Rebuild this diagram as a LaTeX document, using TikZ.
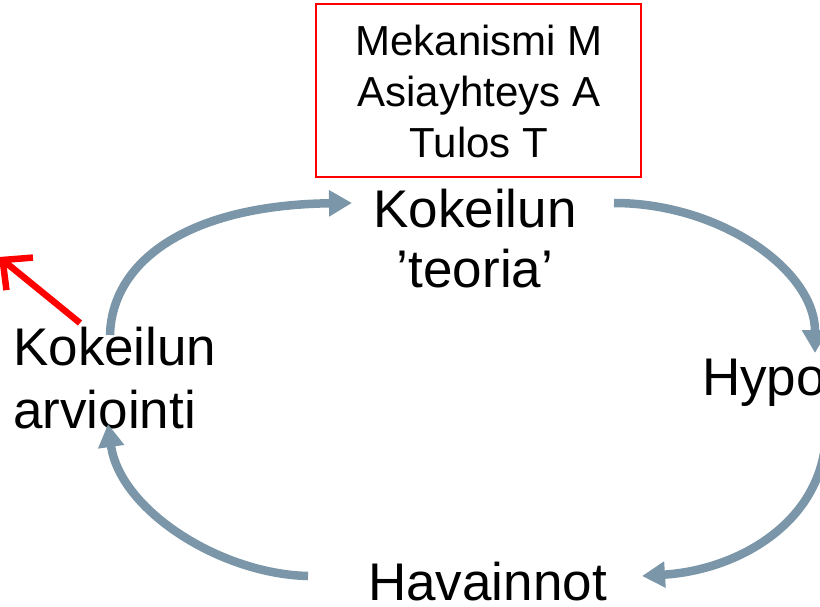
\documentclass[tikz,border=0pt]{standalone}
\usepackage{fontspec}
\setmainfont{Liberation Sans}
\usetikzlibrary{arrows.meta}
\definecolor{cyc}{RGB}{122,150,168}
\definecolor{boxred}{RGB}{255,0,0}
\begin{document}
\begin{tikzpicture}[x=1pt,y=-1pt,
  cycarrow/.style={draw=cyc, line width=8.5pt, -{Triangle[length=23pt,width=25pt]}},
  bigtext/.style={font=\fontsize{53}{60}\selectfont, inner sep=0pt},
  leftbig/.style={font=\fontsize{53}{63}\selectfont, inner sep=0pt},
  boxtext/.style={font=\fontsize{42}{51}\selectfont, inner sep=0pt},
  framebox/.style={draw=boxred, line width=1.5pt, inner sep=0pt},
  redarrow/.style={draw=boxred, line width=6.5pt, -{Straight Barb[length=22pt,width=42pt]}}]
\useasboundingbox (0,0) rectangle (820,606);
\clip (0,0) rectangle (820,606);
% frame box with its text
\node[framebox, minimum width=325pt, minimum height=173pt] (box) at (478.5,90.5) {};
\node[boxtext, align=center, anchor=base] (boxtxt) at (479,157) {Mekanismi M\\Asiayhteys A\\Tulos T};
% labels
\node[bigtext, align=center, anchor=base] (teoria) at (475,287) {Kokeilun\\’teoria’};
\node[leftbig, align=left, anchor=base west] (arvio) at (13,428) {Kokeilun\\arviointi};
\node[bigtext, anchor=base west] (hypo) at (702,395) {Hypo};
\node[bigtext, anchor=base west] (hav) at (368,600) {Havainnot};
% arrow end points
\coordinate (a1s) at (110,335);
\coordinate (a1e) at (352,203);
\coordinate (a2s) at (614,203);
\coordinate (a2e) at (815,353);
\coordinate (a3s) at (826,430);
\coordinate (a3e) at (642,576);
\coordinate (a4s) at (308,576);
\coordinate (a4e) at (108,424);
\coordinate (rs) at (80,323);
\coordinate (re) at (-1,257);
\draw[cycarrow] (a1s) .. controls (112,260) and (190,205) .. (a1e);
\draw[cycarrow] (a2s) .. controls (720,203) and (815,270) .. (a2e);
\draw[cycarrow] (a3s) .. controls (826,520) and (740,570) .. (a3e);
\draw[cycarrow] (a4s) .. controls (220,574) and (120,510) .. (a4e);
\draw[redarrow] (rs) -- (re);
\end{tikzpicture}
\end{document}
